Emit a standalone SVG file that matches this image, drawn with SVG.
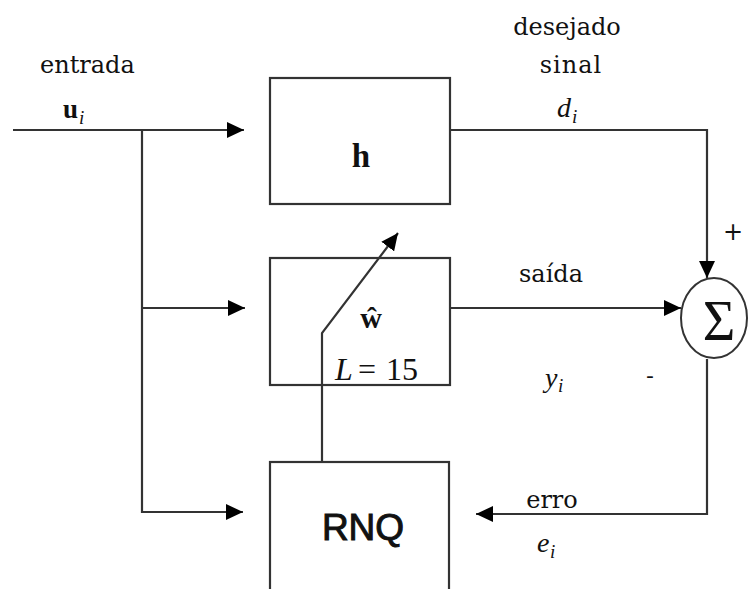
<svg xmlns="http://www.w3.org/2000/svg" width="748" height="589" viewBox="0 0 748 589">
<style>
.box{fill:none;stroke:#333;stroke-width:2.2}
.ln{fill:none;stroke:#333;stroke-width:2.2}
.lbl{font-family:"DejaVu Serif",serif;font-size:24px;fill:#111}
.math{font-family:"Liberation Serif","Times New Roman",serif;fill:#111}
.sub{font-family:"Liberation Serif","Times New Roman",serif;font-size:19px;font-style:italic;fill:#111}
</style>
<defs>
<marker id="ah" viewBox="0 0 17 16" refX="17" refY="8" markerWidth="17" markerHeight="16" markerUnits="userSpaceOnUse" orient="auto">
<path d="M0,0 L17,8 L0,16 Z" fill="#000"/>
</marker>
</defs>
<rect width="748" height="589" fill="#fff"/>
<g id="connectors">
<line class="ln" x1="13" y1="130" x2="244" y2="130" marker-end="url(#ah)"/>
<polyline class="ln" points="142,130 142,512 243,512" marker-end="url(#ah)"/>
<line class="ln" x1="142" y1="308" x2="245" y2="308" marker-end="url(#ah)"/>
<polyline class="ln" points="450,130 707,130 707,278" marker-end="url(#ah)"/>
<line class="ln" x1="450" y1="308" x2="681" y2="308" marker-end="url(#ah)"/>
<polyline class="ln" points="707,359 707,514 476,514" marker-end="url(#ah)"/>
<polyline class="ln" points="322,462 322,333 398,233" marker-end="url(#ah)"/>
</g>
<g id="h">
<rect class="box" x="270" y="78" width="180" height="126"/>
<text class="math" x="361" y="167" font-size="33" font-weight="bold" text-anchor="middle">h</text>
</g>
<g id="w">
<rect class="box" x="270" y="258" width="180" height="127"/>
<text class="math" x="371" y="328" font-size="30" font-weight="bold" text-anchor="middle">ŵ</text>
<text class="math" x="335" y="380" font-size="32" font-style="italic">L</text>
<text class="math" x="358" y="380" font-size="32">=</text>
<text class="math" x="386" y="380" font-size="32">15</text>
</g>
<g id="RNQ">
<rect class="box" x="270" y="462" width="179" height="140"/>
<text x="363" y="540" font-family="Liberation Sans, Arial, sans-serif" font-size="37" text-anchor="middle" fill="#111" stroke="#111" stroke-width="1">RNQ</text>
</g>
<g id="sum">
<ellipse cx="714" cy="318" rx="33" ry="40" fill="#fff" stroke="#333" stroke-width="2"/>
<text class="math" x="719" y="340" font-size="56" text-anchor="middle">Σ</text>
</g>
<g id="labels">
<text class="lbl" x="40" y="73">entrada</text>
<text class="math" x="63" y="118" font-size="27" font-weight="bold">u</text>
<text class="sub" x="79" y="124">i</text>
<text class="lbl" x="567" y="35" text-anchor="middle">desejado</text>
<text class="lbl" x="571" y="73" text-anchor="middle" letter-spacing="1">sinal</text>
<text class="math" x="557" y="117" font-size="28" font-style="italic">d</text>
<text class="sub" x="572" y="123">i</text>
<text class="lbl" x="551" y="282" text-anchor="middle">saída</text>
<text class="math" x="545" y="387" font-size="28" font-style="italic">y</text>
<text class="sub" x="558" y="392">i</text>
<text x="733" y="240" font-family="DejaVu Sans, sans-serif" font-size="24" text-anchor="middle" fill="#111">+</text>
<text x="650" y="383" font-family="DejaVu Sans, sans-serif" font-size="22" text-anchor="middle" fill="#111">-</text>
<text class="lbl" x="552" y="508" text-anchor="middle">erro</text>
<text class="math" x="537" y="552" font-size="28" font-style="italic">e</text>
<text class="sub" x="550" y="558">i</text>
</g>
</svg>
